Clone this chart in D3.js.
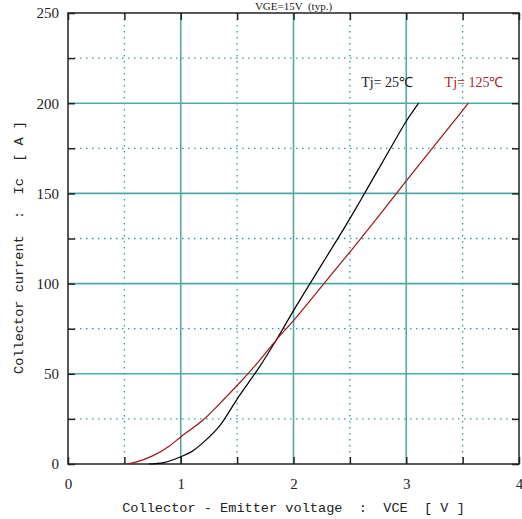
<!DOCTYPE html>
<html><head><meta charset="utf-8">
<script src="https://cdn.jsdelivr.net/npm/d3@7"></script>
<style>body{margin:0;background:#fff}svg{display:block}</style>
</head><body>
<svg id="c" width="522" height="519"></svg>
<script>
const title = "VGE=15V  (typ.)";
const xTicks = [0, 1, 2, 3, 4];
const yTicks = [0, 50, 100, 150, 200, 250];
const xMinor = [0.5, 1.5, 2.5, 3.5];
const yMinor = [25, 75, 125, 175, 225];
const seriesNames = ["Tj= 25\u2103", "Tj= 125\u2103"];
const vce25 = [0.72, 0.85, 1.0, 1.1, 1.2, 1.35, 1.5, 1.6, 1.7, 1.85, 2.0, 2.25, 2.5, 2.63, 2.86, 3.0, 3.11];
const ic25  = [0, 0.8, 4, 7, 12, 21.6, 36, 45, 54, 69, 85, 110.5, 136, 150, 175, 190, 200];
const vce125 = [0.53, 0.6, 0.75, 0.9, 1.0, 1.2, 1.4, 1.5, 1.7, 1.85, 2.0, 2.25, 2.5, 2.75, 3.0, 3.25, 3.5, 3.55];
const ic125  = [0, 1, 4.5, 10, 15, 24.5, 37, 43.5, 57.5, 69, 79.5, 98.5, 117.5, 137, 157, 176.5, 196, 200];

const svg = d3.select("#c");
const L = 68, R = 519, T = 13, B = 464;
const x = d3.scaleLinear().domain([0, 4]).range([L, R]);
const y = d3.scaleLinear().domain([0, 250]).range([B, T]);
const teal = "#4fa9a9", tealDot = "#2f9d9d";

// minor dotted grid
svg.append("g").selectAll("line").data(xMinor).join("line")
  .attr("x1", d => x(d)).attr("x2", d => x(d)).attr("y1", T).attr("y2", B)
  .attr("stroke", tealDot).attr("stroke-width", 1.3).attr("stroke-dasharray", "1.5,4.5");
svg.append("g").selectAll("line").data(yMinor).join("line")
  .attr("y1", d => y(d)).attr("y2", d => y(d)).attr("x1", L).attr("x2", R)
  .attr("stroke", tealDot).attr("stroke-width", 1.3).attr("stroke-dasharray", "1.5,4.5");
// major solid grid
svg.append("g").selectAll("line").data(xTicks.slice(1, -1)).join("line")
  .attr("x1", d => x(d)).attr("x2", d => x(d)).attr("y1", T).attr("y2", B)
  .attr("stroke", teal).attr("stroke-width", 1.6);
svg.append("g").selectAll("line").data(yTicks.slice(1, -1)).join("line")
  .attr("y1", d => y(d)).attr("y2", d => y(d)).attr("x1", L).attr("x2", R)
  .attr("stroke", teal).attr("stroke-width", 1.6);

// axes with inward ticks
const allX = xTicks.concat(xMinor), allY = yTicks.concat(yMinor);
const tk = 7;
const ax = svg.append("g");
ax.append("g").attr("transform", `translate(0,${B})`)
  .call(d3.axisBottom(x).tickValues(allX).tickSize(-tk).tickFormat(d => Number.isInteger(d) ? d : "").tickPadding(14))
  .call(g => g.select(".domain").remove());
ax.append("g").attr("transform", `translate(0,${T})`)
  .call(d3.axisTop(x).tickValues(allX).tickSize(-tk).tickFormat(""))
  .call(g => g.select(".domain").remove());
ax.append("g").attr("transform", `translate(${L},0)`)
  .call(d3.axisLeft(y).tickValues(allY).tickSize(-tk).tickFormat(d => d % 50 === 0 ? d : "").tickPadding(9))
  .call(g => g.select(".domain").remove());
ax.append("g").attr("transform", `translate(${R},0)`)
  .call(d3.axisRight(y).tickValues(allY).tickSize(-tk).tickFormat(""))
  .call(g => g.select(".domain").remove());
svg.selectAll(".tick line").attr("stroke", "#222").attr("stroke-width", 1.5);
svg.selectAll(".tick text").attr("fill", "#222").attr("font-family", "'Liberation Serif', serif").attr("font-size", 15);

// frame
svg.append("rect").attr("x", L).attr("y", T).attr("width", R - L).attr("height", B - T)
  .attr("fill", "none").attr("stroke", "#222").attr("stroke-width", 1.5);

// curves
const line = d3.line().x(d => x(d[0])).y(d => y(d[1])).curve(d3.curveMonotoneX);
svg.append("path").datum(d3.zip(vce25, ic25)).attr("d", line)
  .attr("fill", "none").attr("stroke", "#000").attr("stroke-width", 1.2);
svg.append("path").datum(d3.zip(vce125, ic125)).attr("d", line)
  .attr("fill", "none").attr("stroke", "#9e1414").attr("stroke-width", 1.2);

// series labels
svg.append("text").attr("x", x(2.6)).attr("y", y(209)).text(seriesNames[0])
  .attr("font-family", "'Liberation Serif', serif").attr("font-size", 14).attr("fill", "#222");
svg.append("text").attr("x", x(3.34)).attr("y", y(209)).text(seriesNames[1])
  .attr("font-family", "'Liberation Serif', serif").attr("font-size", 14).attr("fill", "#a0282a");

// title
svg.append("text").attr("x", (L + R) / 2).attr("y", 10).attr("text-anchor", "middle")
  .style("white-space", "pre").text(title)
  .attr("font-family", "'Liberation Serif', serif").attr("font-size", 11).attr("fill", "#222");

// axis titles
svg.append("text").attr("x", (L + R) / 2).attr("y", 512).attr("text-anchor", "middle")
  .style("white-space", "pre")
  .text("Collector - Emitter voltage  :  VCE  [ V ]")
  .attr("font-family", "'Liberation Mono', monospace").attr("font-size", 13.6).attr("fill", "#222");
svg.append("text").attr("transform", `translate(23,${(T + B) / 2 + 9}) rotate(-90)`).attr("text-anchor", "middle")
  .style("white-space", "pre")
  .text("Collector current  :  Ic  [ A ]")
  .attr("font-family", "'Liberation Mono', monospace").attr("font-size", 13.6).attr("fill", "#222");
</script>
</body></html>
